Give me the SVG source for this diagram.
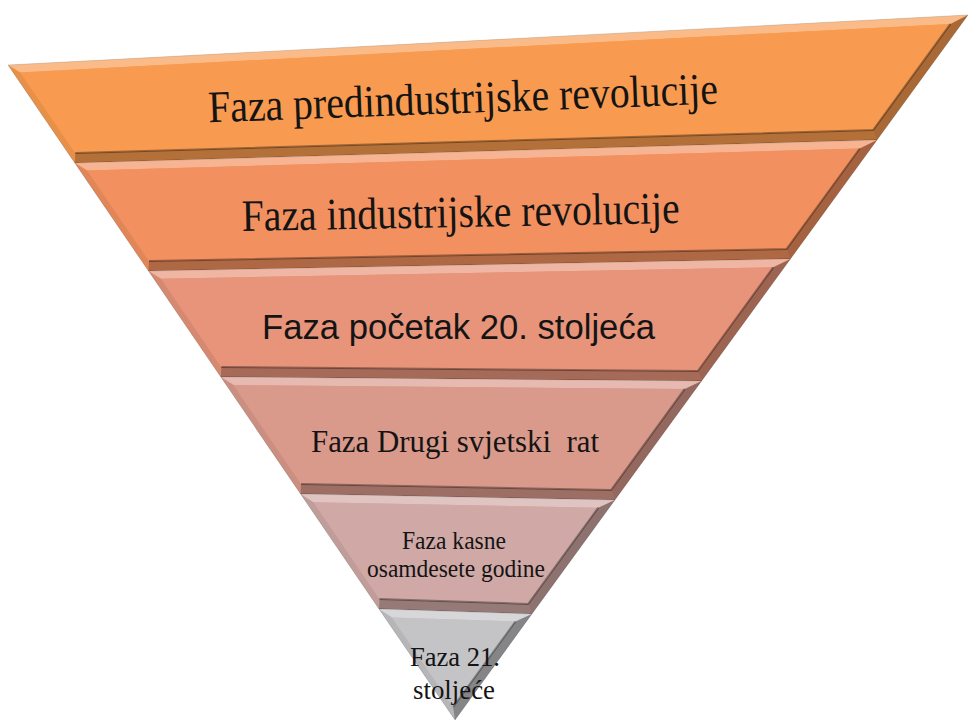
<svg xmlns="http://www.w3.org/2000/svg" width="969" height="722" viewBox="0 0 969 722">
<style>
.ser{font-family:"Liberation Serif","Times New Roman",serif;fill:#141414;text-anchor:middle}
.san{font-family:"Liberation Sans",Arial,sans-serif;fill:#141414;text-anchor:middle}
.out{stroke:#000;stroke-opacity:.15;stroke-width:1}
.bt{fill:#fff;opacity:.32}
.bl{fill:#000;opacity:.07}
.br{fill:#000;opacity:.32}
.bb{fill:#000;opacity:.28}
.edge{fill:none;stroke:#000;stroke-opacity:.35;stroke-width:2;stroke-linejoin:round}
.l1{fill:#F89B50}.l2{fill:#F2915F}.l3{fill:#E7947A}.l4{fill:#DA9A8B}.l5{fill:#D0A9A6}.l6{fill:#C4C4C7}
</style>
<rect width="969" height="722" fill="#fff"/>
<g id="layer1">
<polygon class="l1 out" points="8,65 968,15 877,140 74.8,163"/>
<polygon class="bt" points="8,65 968,15 950.4,23.9 20.3,72.4"/>
<polygon class="br" points="968,15 877,140 873.1,130.1 950.4,23.9"/>
<polygon class="bb" points="877,140 74.8,163 75.3,153 873.1,130.1"/>
<polygon class="bl" points="74.8,163 8,65 20.3,72.4 75.3,153"/>
<polygon class="l1" points="20.3,72.4 950.4,23.9 873.1,130.1 75.3,153"/>
<polyline class="edge" points="950.4,23.9 873.1,130.1 75.3,153"/>
<text class="ser" x="463.5" y="113" font-size="45" textLength="510" lengthAdjust="spacingAndGlyphs" transform="rotate(-2.1 463.5 113)">Faza predindustrijske revolucije</text>
</g>
<g id="layer2">
<polygon class="l2 out" points="74.8,163 877,140 790.4,259 148.5,271"/>
<polygon class="bt" points="74.8,163 877,140 859.7,148.5 87.3,170.6"/>
<polygon class="br" points="877,140 790.4,259 786.5,249.1 859.7,148.5"/>
<polygon class="bb" points="790.4,259 148.5,271 149,261 786.5,249.1"/>
<polygon class="bl" points="148.5,271 74.8,163 87.3,170.6 149,261"/>
<polygon class="l2" points="87.3,170.6 859.7,148.5 786.5,249.1 149,261"/>
<polyline class="edge" points="859.7,148.5 786.5,249.1 149,261"/>
<text class="ser" x="461" y="227" font-size="45" textLength="438" lengthAdjust="spacingAndGlyphs" transform="rotate(-1.05 461 227)">Faza industrijske revolucije</text>
</g>
<g id="layer3">
<polygon class="l3 out" points="148.5,271 790.4,259 701.6,381 220.8,377"/>
<polygon class="bt" points="148.5,271 790.4,259 773.2,267.3 161.1,278.8"/>
<polygon class="br" points="790.4,259 701.6,381 697.8,371 773.2,267.3"/>
<polygon class="bb" points="701.6,381 220.8,377 221.3,367 697.8,371"/>
<polygon class="bl" points="220.8,377 148.5,271 161.1,278.8 221.3,367"/>
<polygon class="l3" points="161.1,278.8 773.2,267.3 697.8,371 221.3,367"/>
<polyline class="edge" points="773.2,267.3 697.8,371 221.3,367"/>
<text class="san" x="458.5" y="339" font-size="35" textLength="393" lengthAdjust="spacingAndGlyphs">Faza početak 20. stoljeća</text>
</g>
<g id="layer4">
<polygon class="l4 out" points="220.8,377 701.6,381 614.9,500 300.6,494"/>
<polygon class="bt" points="220.8,377 701.6,381 684.7,388.9 233.6,385.1"/>
<polygon class="br" points="701.6,381 614.9,500 611.2,489.9 684.7,388.9"/>
<polygon class="bb" points="614.9,500 300.6,494 301.1,484 611.2,489.9"/>
<polygon class="bl" points="300.6,494 220.8,377 233.6,385.1 301.1,484"/>
<polygon class="l4" points="233.6,385.1 684.7,388.9 611.2,489.9 301.1,484"/>
<polyline class="edge" points="684.7,388.9 611.2,489.9 301.1,484"/>
<text class="ser" x="455" y="452" font-size="32" textLength="288" lengthAdjust="spacingAndGlyphs" xml:space="preserve">Faza Drugi svjetski  rat</text>
</g>
<g id="layer5">
<polygon class="l5 out" points="300.6,494 614.9,500 531.9,614 379,609"/>
<polygon class="bt" points="300.6,494 614.9,500 598.2,507.7 313.5,502.2"/>
<polygon class="br" points="614.9,500 531.9,614 528.2,603.9 598.2,507.7"/>
<polygon class="bb" points="531.9,614 379,609 379.5,599 528.2,603.9"/>
<polygon class="bl" points="379,609 300.6,494 313.5,502.2 379.5,599"/>
<polygon class="l5" points="313.5,502.2 598.2,507.7 528.2,603.9 379.5,599"/>
<polyline class="edge" points="598.2,507.7 528.2,603.9 379.5,599"/>
<text class="ser" x="454" y="549" font-size="25" textLength="104" lengthAdjust="spacingAndGlyphs">Faza kasne</text>
<text class="ser" x="456" y="577" font-size="25" textLength="178" lengthAdjust="spacingAndGlyphs">osamdesete godine</text>
</g>
<g id="layer6">
<polygon class="l6 out" points="379,609 531.9,614 455,720"/>
<polygon class="bt" points="379,609 531.9,614 515.4,621.5 392.1,617.4"/>
<polygon class="br" points="531.9,614 455,720 453.1,707 515.4,621.5"/>
<polygon class="bl" points="455,720 379,609 392.1,617.4 453.1,707"/>
<polygon class="l6" points="392.1,617.4 515.4,621.5 453.1,707"/>
<polyline class="edge" points="515.4,621.5 453.1,707"/>
<text class="ser" x="455" y="666" font-size="28" textLength="90" lengthAdjust="spacingAndGlyphs">Faza 21.</text>
<text class="ser" x="454" y="699" font-size="28" textLength="82" lengthAdjust="spacingAndGlyphs">stoljeće</text>
</g>
<g id="connectors"/>
</svg>
